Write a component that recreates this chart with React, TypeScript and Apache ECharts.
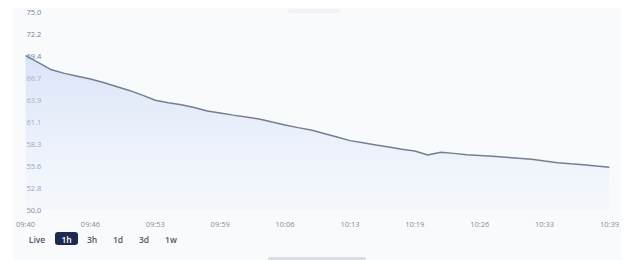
import React, { useEffect, useRef } from "react";
import * as echarts from "echarts";

const TICK_LABELS = ["09:40", "09:46", "09:53", "09:59", "10:06", "10:13", "10:19", "10:26", "10:33", "10:39"];
const POINTS_PER_LABEL = 5;

const PRICES = [
  69.5, 68.6, 67.7, 67.25, 66.9, 66.55, 66.1, 65.6, 65.1, 64.5,
  63.85, 63.55, 63.3, 62.95, 62.5, 62.25, 61.98, 61.75, 61.48, 61.1,
  60.73, 60.4, 60.1, 59.67, 59.22, 58.76, 58.48, 58.2, 57.95, 57.68,
  57.45, 56.95, 57.3, 57.15, 56.98, 56.88, 56.78, 56.66, 56.53, 56.41,
  56.18, 55.98, 55.84, 55.72, 55.55, 55.4,
];

const Y_MIN = 50;
const Y_MAX = 75;
const Y_STEPS = 9;

const RANGES = ["Live", "1h", "3h", "1d", "3d", "1w"];
const SELECTED_RANGE = "1h";

export default function App() {
  const ref = useRef<HTMLDivElement>(null);

  useEffect(() => {
    if (!ref.current) return;
    const chart = echarts.init(ref.current, undefined, { renderer: "svg" });

    const categories = PRICES.map((_, i) =>
      i % POINTS_PER_LABEL === 0 ? TICK_LABELS[i / POINTS_PER_LABEL] ?? "" : ""
    );

    const btnX = [24, 53.5, 79, 105, 131, 158];
    const graphics: any[] = [];
    RANGES.forEach((r, i) => {
      const sel = r === SELECTED_RANGE;
      if (sel) {
        graphics.push({
          type: "rect",
          shape: { x: btnX[i] - 11.5, y: 224, width: 23, height: 13, r: 3 },
          style: { fill: "#1e2950" },
        });
      }
      graphics.push({
        type: "text",
        x: btnX[i],
        y: 231,
        style: {
          text: r,
          fill: sel ? "#ffffff" : "#50566b",
          font: "600 8.5px 'Open Sans', sans-serif",
          textAlign: "center",
          textVerticalAlign: "middle",
        },
      });
    });
    graphics.push({
      type: "rect",
      shape: { x: 255, y: 249, width: 98, height: 6, r: 2 },
      style: { fill: "#dcdde2" },
    });
    graphics.push({
      type: "rect",
      shape: { x: 275, y: 1, width: 52, height: 4, r: 2 },
      style: { fill: "#f1f2f5" },
    });

    chart.setOption({
      animation: false,
      grid: { left: 1, right: 0, top: 3, bottom: 50, containLabel: false },
      xAxis: {
        type: "category",
        data: categories,
        boundaryGap: false,
        axisLine: { show: false },
        axisTick: { show: false },
        splitLine: { show: false },
        axisLabel: {
          interval: POINTS_PER_LABEL - 1,
          showMinLabel: true,
          showMaxLabel: true,
          alignMinLabel: "center",
          alignMaxLabel: "center",
          color: "#8a8e98",
          fontSize: 7.5,
          fontFamily: "'Open Sans', sans-serif",
          margin: 10,
        },
      },
      yAxis: {
        type: "value",
        min: Y_MIN,
        max: Y_MAX,
        interval: (Y_MAX - Y_MIN) / Y_STEPS,
        axisLine: { show: false },
        axisTick: { show: false },
        splitLine: { show: false },
        axisLabel: {
          inside: true,
          margin: 1,
          color: "#6f7fa2",
          fontSize: 7.5,
          fontFamily: "'Open Sans', sans-serif",
          formatter: (v: number) => v.toFixed(1),
        },
      },
      graphic: graphics,
      series: [
        {
          type: "line",
          data: PRICES,
          symbol: "none",
          smooth: false,
          lineStyle: { color: "#747e8f", width: 1.5 },
          areaStyle: {
            origin: "start",
            color: new echarts.graphic.LinearGradient(0, 0, 0, 1, [
              { offset: 0, color: "rgba(196,213,245,0.85)" },
              { offset: 1, color: "rgba(232,239,252,0.35)" },
            ]),
          },
        },
      ],
    });

    return () => chart.dispose();
  }, []);

  return (
    <div style={{ position: "fixed", left: 0, top: 0, width: 629, height: 260, background: "#ffffff", overflow: "hidden" }}>
      <div style={{ position: "absolute", left: 13, top: 8, width: 609, height: 252, background: "#f9fafc" }} />
      <div
        ref={ref}
        style={{ position: "absolute", left: 13, top: 8, width: 609, height: 252, overflow: "hidden" }}
      />
    </div>
  );
}
